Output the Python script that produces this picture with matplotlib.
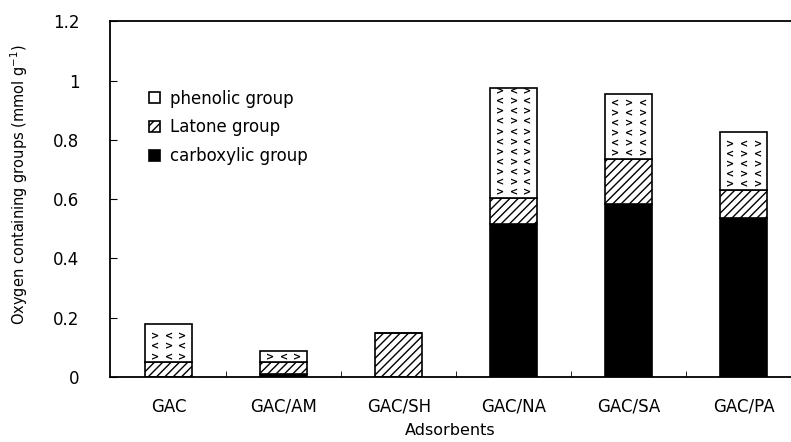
import matplotlib.pyplot as plt
import numpy as np

plt.rcParams['font.family'] = ['DejaVu Sans']

adsorbents = ["GAC", "GAC/AM", "GAC/SH", "GAC/NA", "GAC/SA", "GAC/PA"]
carboxylic = [0.0, 0.01, 0.0, 0.515, 0.585, 0.535]
lactone = [0.05, 0.04, 0.15, 0.09, 0.15, 0.097]
phenolic = [0.128, 0.038, 0.0, 0.37, 0.22, 0.195]

x = np.arange(len(adsorbents))
w = 0.41
carb = np.array(carboxylic)
lac = np.array(lactone)
phe = np.array(phenolic)

fig = plt.figure(figsize=(7.91, 4.42), dpi=100)
ax = fig.add_axes([0.139, 0.147, 0.861, 0.805])
plt.rcParams['hatch.linewidth'] = 1.0

b1 = ax.bar(x, carb, w, color="black", edgecolor="black", lw=1.2,
            label="carboxylic group")
b2 = ax.bar(x, lac, w, bottom=carb, color="white", edgecolor="black",
            hatch="////", lw=1.2, label="Latone group")
b3 = ax.bar(x, phe, w, bottom=carb + lac, color="white", edgecolor="black",
            lw=1.2, label="phenolic group")

# '<' '>' texture inside phenolic segments
for i in range(len(x)):
    if phe[i] <= 0:
        continue
    lo = carb[i] + lac[i]
    hi = lo + phe[i]
    ys = np.arange(lo + 0.018, hi - 0.008, 0.034)
    for k, yy in enumerate(ys):
        for j, dx in enumerate([-0.12, 0.0, 0.12]):
            m = ">" if (j + k) % 2 == 0 else "<"
            ax.text(x[i] + dx, yy, m, ha="center", va="center", fontsize=7,
                    fontweight="bold")

ax.set_xlim(-0.51, 5.41)
ax.set_ylim(0, 1.2)
ax.set_yticks([0, 0.2, 0.4, 0.6, 0.8, 1.0, 1.2])
ax.set_yticklabels(["0", "0.2", "0.4", "0.6", "0.8", "1", "1.2"], fontsize=12)
ax.set_xticks(x)
ax.set_xticklabels(adsorbents, fontsize=12)
ax.set_xticks(x[:-1] + 0.5, minor=True)
ax.tick_params(axis="x", which="major", length=0, pad=15)
ax.tick_params(axis="x", which="minor", direction="in", length=4)
ax.tick_params(axis="y", direction="in", length=5, pad=22)
ax.spines["right"].set_visible(False)
for s in ["left", "bottom", "top"]:
    ax.spines[s].set_linewidth(1.3)

ax.set_xlabel("Adsorbents", fontsize=11.5)
ax.xaxis.set_label_coords(0.50, -0.128)
ax.set_ylabel("Oxygen containing groups (mmol g$^{-1}$)", fontsize=10.5,
              family="Liberation Sans Narrow")
ax.yaxis.set_label_coords(-0.118, 0.54)

ax.legend(handles=[b3, b2, b1], loc="upper left", bbox_to_anchor=(0.035, 0.85),
          frameon=False, fontsize=12, handlelength=0.65, handleheight=0.65,
          handletextpad=0.6, labelspacing=0.65)

fig.savefig("out.png", dpi=100)
